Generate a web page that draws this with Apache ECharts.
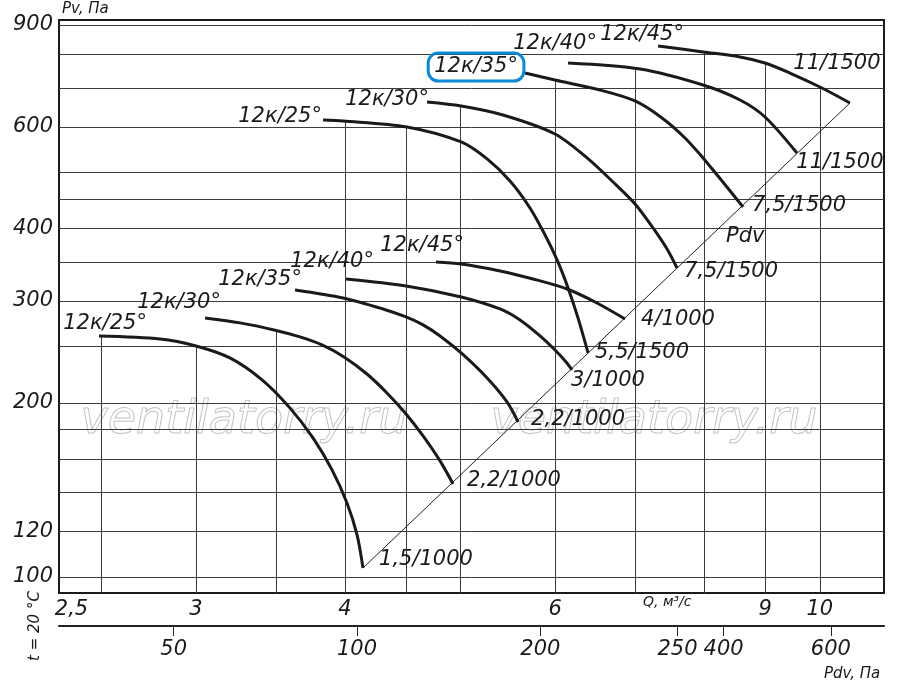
<!DOCTYPE html>
<html><head><meta charset="utf-8">
<script src="https://cdn.jsdelivr.net/npm/echarts@6/dist/echarts.min.js"></script>
<style>html,body{margin:0;padding:0;background:#fff}#c{width:900px;height:687px}</style>
</head><body><div id="c"></div>
<script>
// ---- axis ranges (log scales) ----
const qMin = 2.303, qMax = 11.32;       // Q, m3/s
const pvMin = 93.8, pvMax = 918;        // Pv, Pa
const pdvMin = 32.4, pdvMax = 733.6;    // Pdv, Pa

// ---- grid lines ----
const qGridLines = [2.5, 3, 3.5, 4, 4.5, 5, 6, 7, 8, 9, 10];
const qGridTops  = [261, 251, 267, 614, 600, 652, 723, 755, 808, 773, 703];
const pvGridLines = [100, 120, 140, 160, 180, 200, 250, 300, 350, 400, 450, 500, 600, 700, 800, 900];

// ---- tick labels ----
const qTickValues = [2.5, 3, 4, 6, 9, 10];
const qTickLabels = ['2,5', '3', '4', '6', '9', '10'];
const pvTickValues = [100, 120, 200, 300, 400, 600, 900];
const pvTickLabels = ['100', '120', '200', '300', '400', '600', '900'];
const pdvTickValues = [50, 100, 200, 336, 400, 600];
const pdvTickLabels = ['50', '100', '200', '250', '400', '600'];

// ---- curve names ----
const curveNames = ['12к/25°', '12к/30°', '12к/35°', '12к/40°', '12к/45°',
                    '12к/25°', '12к/30°', '12к/35°', '12к/40°', '12к/45°'];
const curveEndNames = ['1,5/1000', '2,2/1000', '2,2/1000', '3/1000', '4/1000',
                       '5,5/1500', '7,5/1500', '7,5/1500', '11/1500', '11/1500'];

// ---- curves 1000 rpm ----
const q_L25  = [2.488, 2.799, 3.000, 3.203, 3.408, 3.596, 3.760, 3.901, 4.015, 4.094, 4.141];
const pv_L25 = [261.0, 257.9, 250.8, 239.1, 219.1, 196.0, 173.9, 153.1, 134.2, 118.2, 103.6];
const q_L30  = [3.053, 3.266, 3.488, 3.667, 3.826, 3.992, 4.173, 4.337, 4.500, 4.650, 4.805, 4.927];
const pv_L30 = [280.4, 274.9, 267.3, 260.0, 251.8, 240.1, 224.3, 208.0, 191.3, 175.3, 158.7, 144.8];
const q_L35  = [3.632, 3.985, 4.304, 4.500, 4.650, 4.805, 5.005, 5.262, 5.468, 5.586];
const pv_L35 = [313.4, 303.6, 290.6, 281.5, 272.7, 261.0, 243.9, 220.8, 200.7, 185.3];
const q_L40  = [4.008, 4.500, 5.005, 5.395, 5.607, 5.828, 5.999, 6.128, 6.199];
const pv_L40 = [327.4, 318.4, 304.8, 290.6, 278.1, 261.0, 246.8, 235.3, 228.0];
const q_L45  = [4.768, 5.005, 5.395, 5.750, 6.140, 6.505, 6.867];
const pv_L45 = [350.4, 347.6, 338.1, 327.4, 314.6, 297.6, 279.2];

// ---- curves 1500 rpm ----
const q_U25  = [3.834, 3.985, 4.508, 5.005, 5.262, 5.500, 5.716, 5.885, 6.023, 6.152, 6.271, 6.394];
const pv_U25 = [616.6, 614.1, 599.6, 564.9, 528.0, 483.6, 434.4, 390.1, 353.2, 315.9, 280.4, 243.9];
const q_U30  = [4.686, 5.005, 5.426, 5.999, 6.382, 6.710, 7.001, 7.248, 7.447, 7.592];
const pv_U30 = [662.4, 651.9, 629.0, 583.2, 530.1, 481.7, 441.3, 401.2, 368.9, 342.1];
const q_U35  = [5.662, 5.999, 6.543, 7.001, 7.375, 7.710, 7.983, 8.281, 8.624];
const pv_U35 = [743.3, 722.9, 694.7, 665.0, 621.5, 574.0, 530.1, 483.6, 436.1];
const q_U40  = [6.152, 7.070, 7.983, 8.574, 8.997, 9.569];
const pv_U40 = [773.5, 755.2, 708.6, 667.7, 624.0, 540.7];
const q_U45  = [7.319, 7.983, 8.574, 8.997, 9.440, 10.004, 10.600];
const pv_U45 = [827.9, 808.4, 792.4, 773.5, 743.3, 703.0, 659.8];

// ---- Pdv line ----
const pdvLineQ  = [4.141, 10.600];
const pdvLinePv = [103.6, 659.8];

// ---- styles (label offsets in px) ----
const startLabelOffsets = [[6,-12],[-26,-15],[-35,-10],[-14,-17],[-14,-16],[-43,-3],[-40,-2],[-49,-6],[-13,-19],[-16,-11]];
const endLabelOffsets = [[63,-8],[61,-3],[60,-2],[36,11],[53,1],[54,0],[54,4],[56,-1],[43,10],[-13,-39]];
const highlightIndex = 7;

const FONT = 'DejaVu Sans';
const TXT = '#1a1a1a';

function lookup(values, texts) {
  return function (v) {
    for (let i = 0; i < values.length; i++) {
      if (Math.abs(v - values[i]) <= values[i] * 1e-6) return texts[i];
    }
    return '';
  };
}
function logLerp(a, b, t) { return Math.exp(Math.log(a) + t * (Math.log(b) - Math.log(a))); }

const curves = [
  [q_L25, pv_L25], [q_L30, pv_L30], [q_L35, pv_L35], [q_L40, pv_L40], [q_L45, pv_L45],
  [q_U25, pv_U25], [q_U30, pv_U30], [q_U35, pv_U35], [q_U40, pv_U40], [q_U45, pv_U45]
];

const labelBase = { color: TXT, fontSize: 21, fontStyle: 'italic', fontFamily: FONT };

const curveSeries = curves.map(function (c, i) {
  const qs = c[0], ps = c[1], n = qs.length;
  const data = qs.map(function (q, j) {
    const item = { value: [q, ps[j]] };
    if (j === 0) {
      item.label = { show: true, formatter: curveNames[i], offset: startLabelOffsets[i] };
      if (i === highlightIndex) {
        Object.assign(item.label, { borderColor: '#0a8ad6', borderWidth: 3, borderRadius: 10, padding: [4, 6, 3, 6] });
      }
    }
    if (j === n - 1) {
      item.label = { show: true, formatter: curveEndNames[i], offset: endLabelOffsets[i] };
    }
    return item;
  });
  return {
    type: 'line', data: data, smooth: 0.3,
    symbol: 'circle', symbolSize: 0.01, showSymbol: true, silent: true, z: 5,
    lineStyle: { color: '#1a1a1a', width: 3 },
    itemStyle: { color: '#1a1a1a' },
    label: Object.assign({ show: false, position: 'inside' }, labelBase),
    emphasis: { disabled: true }, animation: false
  };
});

const pdvMidT = 0.781;
const pdvSeries = {
  type: 'line', silent: true, z: 4, symbol: 'circle', symbolSize: 0.01, showSymbol: true,
  lineStyle: { color: '#222', width: 1 }, itemStyle: { color: '#222' },
  label: Object.assign({ show: false, position: 'inside' }, labelBase),
  emphasis: { disabled: true }, animation: false,
  data: [
    [pdvLineQ[0], pdvLinePv[0]],
    { value: [logLerp(pdvLineQ[0], pdvLineQ[1], pdvMidT), logLerp(pdvLinePv[0], pdvLinePv[1], pdvMidT)],
      label: { show: true, formatter: 'Pdv', offset: [2, 32] } },
    [pdvLineQ[1], pdvLinePv[1]]
  ]
};

const gridData = qGridLines.map(function (q, i) {
  return { coords: [[q, pvMin], [q, qGridTops[i]]] };
}).concat(pvGridLines.map(function (p) {
  return { coords: [[qMin, p], [qMax, p]] };
}));

const gridSeries = {
  type: 'lines', coordinateSystem: 'cartesian2d', xAxisIndex: 0, yAxisIndex: 0,
  silent: true, z: 1, animation: false, polyline: false,
  lineStyle: { color: '#3c3c3c', width: 1, opacity: 1, curveness: 0 },
  data: gridData
};

const axisLabelStyle = { color: TXT, fontSize: 21, fontStyle: 'italic', fontFamily: FONT };

const option = {
  backgroundColor: '#fff',
  animation: false,
  grid: { left: 59, right: 16, top: 20, bottom: 94, show: true, borderColor: '#1a1a1a', borderWidth: 2,
          backgroundColor: 'transparent', containLabel: false, outerBoundsMode: 'none' },
  xAxis: [
    { type: 'log', gridIndex: 0, min: qMin, max: qMax, position: 'bottom',
      axisLine: { show: false }, axisTick: { show: false }, splitLine: { show: false },
      minorTick: { show: false }, minorSplitLine: { show: false },
      axisLabel: Object.assign({ customValues: qTickValues, margin: 6,
        formatter: function (v) {
          const t = lookup(qTickValues, qTickLabels)(v);
          return t === '2,5' ? '{s|' + t + '}' : t;
        },
        rich: { s: { fontSize: 21, fontStyle: 'italic', fontFamily: FONT, color: TXT, padding: [0, 60, 0, 0] } }
      }, axisLabelStyle) },
    { type: 'log', gridIndex: 0, min: pdvMin, max: pdvMax, position: 'bottom', offset: 33,
      axisLine: { show: true, lineStyle: { color: '#222', width: 2 } },
      axisTick: { show: true, customValues: pdvTickValues, length: 10, inside: false, lineStyle: { color: '#222', width: 1 } },
      splitLine: { show: false }, minorTick: { show: false },
      axisLabel: Object.assign({ customValues: pdvTickValues, margin: 13,
        formatter: lookup(pdvTickValues, pdvTickLabels) }, axisLabelStyle) }
  ],
  yAxis: [
    { type: 'log', gridIndex: 0, min: pvMin, max: pvMax,
      axisLine: { show: false }, axisTick: { show: false }, splitLine: { show: false },
      minorTick: { show: false },
      axisLabel: Object.assign({ customValues: pvTickValues, margin: 6,
        formatter: lookup(pvTickValues, pvTickLabels) }, axisLabelStyle) }
  ],
  graphic: [
    { type: 'text', left: 80, top: 398, z: -1, silent: true,
      style: { text: 'ventilatorry.ru', font: 'italic 46px "DejaVu Sans"', fill: 'rgba(255,255,255,0)', stroke: '#c4c4c4', lineWidth: 1 } },
    { type: 'text', left: 490, top: 398, z: -1, silent: true,
      style: { text: 'ventilatorry.ru', font: 'italic 46px "DejaVu Sans"', fill: 'rgba(255,255,255,0)', stroke: '#c4c4c4', lineWidth: 1 } },
    { type: 'text', left: 62, top: 2, z: 100,
      style: { text: 'Pv, Па', font: 'italic 15px "DejaVu Sans"', fill: TXT } },
    { type: 'text', left: 643, top: 595, z: 100,
      style: { text: 'Q, м³/с', font: 'italic 14px "DejaVu Sans"', fill: TXT } },
    { type: 'text', left: 824, top: 667, z: 100,
      style: { text: 'Pdv, Па', font: 'italic 15px "DejaVu Sans"', fill: TXT } },
    { type: 'text', x: 35, y: 626, rotation: Math.PI / 2, z: 100,
      style: { text: 't = 20 °C', font: 'italic 15px "DejaVu Sans"', fill: TXT, align: 'center', verticalAlign: 'middle' } }
  ],
  series: [gridSeries, pdvSeries].concat(curveSeries)
};

const chart = echarts.init(document.getElementById('c'), null, { renderer: 'canvas' });
chart.setOption(option);
</script>
</body></html>
